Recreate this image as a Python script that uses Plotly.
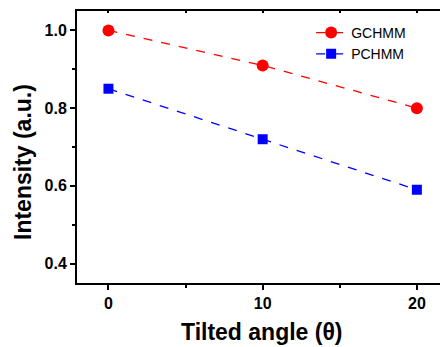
import plotly.graph_objects as go

angles = [0, 10, 20]
gchmm = [1.0, 0.91, 0.80]
pchmm = [0.85, 0.72, 0.59]
series_names = ["GCHMM", "PCHMM"]
x_title = "Tilted angle (θ)"
y_title = "Intensity (a.u.)"

FONT = "Arial, Liberation Sans, sans-serif"

fig = go.Figure()
fig.add_trace(go.Scatter(
    x=angles, y=gchmm, name=series_names[0], mode="lines+markers",
    line=dict(color="#ff0000", width=1.3, dash="dash"),
    marker=dict(symbol="circle", size=12, color="#ff0000"),
))
fig.add_trace(go.Scatter(
    x=angles, y=pchmm, name=series_names[1], mode="lines+markers",
    line=dict(color="#0000ff", width=1.3, dash="dash"),
    marker=dict(symbol="square", size=10, color="#0000ff"),
))

fig.update_layout(
    width=440, height=347,
    margin=dict(l=77, r=0, t=11, b=64),
    paper_bgcolor="white", plot_bgcolor="white",
    font=dict(family=FONT, color="black"),
    showlegend=True,
    legend=dict(x=0.645, y=0.978, xanchor="left", yanchor="top",
                font=dict(size=14, family=FONT), bgcolor="rgba(0,0,0,0)",
                tracegroupgap=0),
    xaxis=dict(
        range=[-2.04, 21.5], tickvals=[0, 10, 20], ticktext=["0", "10", "20"],
        ticks="outside", ticklen=5, tickwidth=1.5, tickcolor="black",
        showline=True, linewidth=2, linecolor="black",
        showgrid=False, zeroline=False,
        tickfont=dict(size=16, family=FONT, weight="bold"),
        minor=dict(tickvals=[5, 15], ticks="outside", ticklen=3, tickwidth=1.5,
                   tickcolor="black", showgrid=False),
    ),
    xaxis2=dict(
        overlaying="x", side="top", range=[-2.04, 21.5],
        tickvals=[0, 5, 10, 15, 20], showticklabels=False,
        ticks="inside", ticklen=2, tickwidth=1.5, tickcolor="black",
        showline=True, linewidth=2, linecolor="black",
        showgrid=False, zeroline=False,
    ),
    yaxis=dict(
        range=[0.35, 1.05], tickvals=[0.4, 0.6, 0.8, 1.0],
        ticktext=["0.4", "0.6", "0.8", "1.0"],
        ticks="outside", ticklen=5, tickwidth=1.5, tickcolor="black",
        showline=True, linewidth=2, linecolor="black",
        showgrid=False, zeroline=False,
        tickfont=dict(size=16, family=FONT, weight="bold"),
        minor=dict(tickvals=[0.5, 0.7, 0.9], ticks="outside", ticklen=3,
                   tickwidth=1.5, tickcolor="black", showgrid=False),
    ),
)

fig.add_trace(go.Scatter(x=[None], y=[None], xaxis="x2", showlegend=False,
                         hoverinfo="skip"))

fig.add_annotation(text=x_title, xref="paper", yref="paper",
                   x=(262 - 77) / 363, y=-(332 - 283) / 272,
                   xanchor="center", yanchor="middle", showarrow=False,
                   font=dict(size=23, family=FONT, weight="bold"))
fig.add_annotation(text=y_title, xref="paper", yref="paper",
                   x=-(77 - 23) / 363, y=(283 - 162) / 272,
                   xanchor="center", yanchor="middle", showarrow=False,
                   textangle=-90,
                   font=dict(size=23, family=FONT, weight="bold"))

fig.write_html(
    "out.html",
    config={"displayModeBar": False},
    post_script="document.body.style.margin='0';document.body.style.overflow='hidden';",
)
